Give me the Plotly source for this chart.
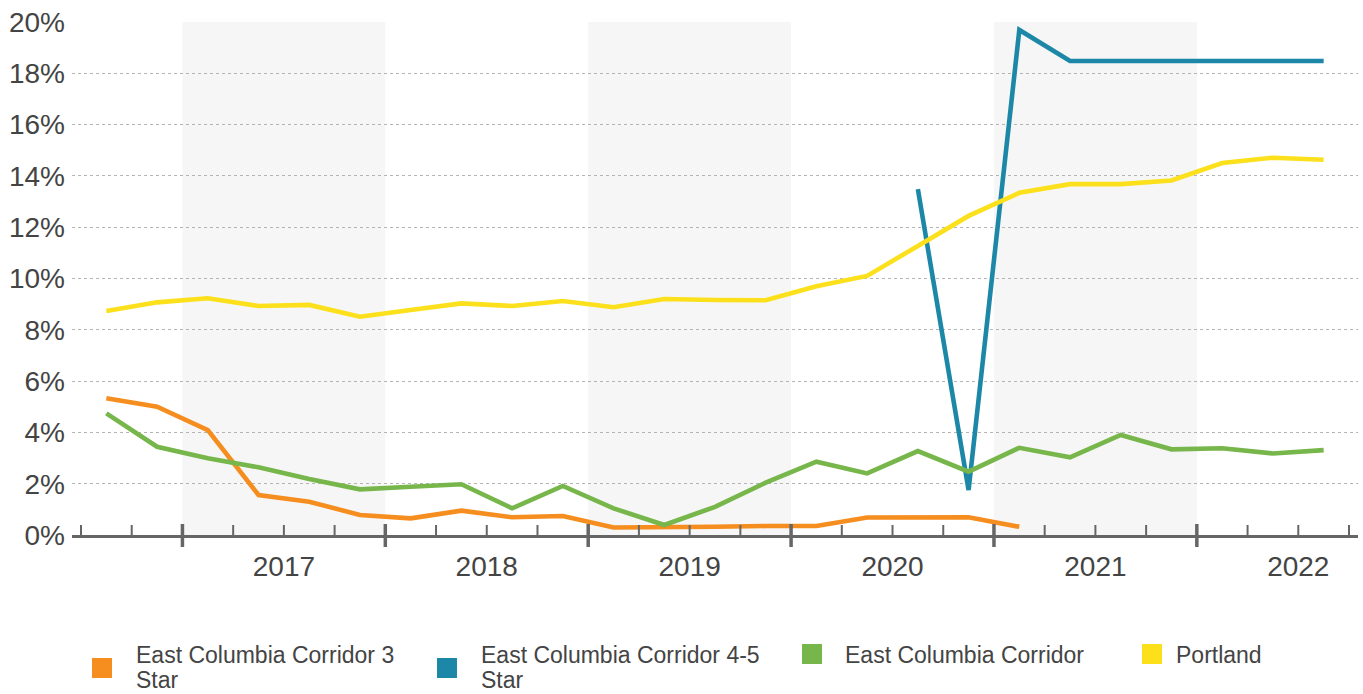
import plotly.graph_objects as go

# Quarterly vacancy rates, 2016 Q3 through 2022 Q3
quarters = [
    "2016 Q3", "2016 Q4",
    "2017 Q1", "2017 Q2", "2017 Q3", "2017 Q4",
    "2018 Q1", "2018 Q2", "2018 Q3", "2018 Q4",
    "2019 Q1", "2019 Q2", "2019 Q3", "2019 Q4",
    "2020 Q1", "2020 Q2", "2020 Q3", "2020 Q4",
    "2021 Q1", "2021 Q2", "2021 Q3", "2021 Q4",
    "2022 Q1", "2022 Q2", "2022 Q3",
]

ecc_3_star = [5.33, 5.00, 4.09, 1.56, 1.30, 0.78, 0.65, 0.95, 0.69, 0.74,
              0.29, 0.29, 0.32, 0.35, 0.35, 0.68, 0.68, 0.69, 0.32,
              None, None, None, None, None, None]
ecc_4_5_star = [None, None, None, None, None, None, None, None, None, None,
                None, None, None, None, None, None, 13.48, 1.75, 19.69,
                18.48, 18.48, 18.48, 18.48, 18.48, 18.48]
ecc_all = [4.74, 3.44, 2.99, 2.64, 2.18, 1.78, 1.88, 1.98, 1.04, 1.91,
           1.04, 0.39, 1.10, 2.04, 2.86, 2.40, 3.27, 2.47, 3.40, 3.03,
           3.90, 3.34, 3.38, 3.18, 3.31]
portland = [8.73, 9.07, 9.23, 8.93, 8.97, 8.51, 8.77, 9.03, 8.93, 9.12,
            8.88, 9.20, 9.16, 9.15, 9.70, 10.10, 11.27, 12.44, 13.34, 13.68,
            13.68, 13.82, 14.50, 14.71, 14.63]

series_names = ["East Columbia Corridor 3<br>Star",
                "East Columbia Corridor 4-5<br>Star",
                "East Columbia Corridor",
                "Portland"]
series_values = [ecc_3_star, ecc_4_5_star, ecc_all, portland]
series_colors = ["#F58D1F", "#1D87A7", "#77B64A", "#FBE01B"]

y_ticks = [0, 2, 4, 6, 8, 10, 12, 14, 16, 18, 20]

FONT = "Liberation Sans, Arial, sans-serif"
TEXT = "#444444"

x = list(range(len(quarters)))
years = sorted({q.split()[0] for q in quarters})
year_idx = {y: [i for i, q in enumerate(quarters) if q.startswith(y)] for y in years}

fig = go.Figure()

# Alternating year bands
for yr in years:
    idx = year_idx[yr]
    if int(yr) % 2 == 1:
        fig.add_shape(type="rect", xref="x", yref="paper",
                      x0=idx[0] - 0.5, x1=idx[-1] + 0.5, y0=0, y1=1,
                      fillcolor="#F6F6F6", line_width=0, layer="below")

for name, vals, col in zip(series_names, series_values, series_colors):
    fig.add_trace(go.Scatter(x=x, y=vals, mode="lines",
                             name=name.replace("<br>", " "),
                             line=dict(color=col, width=4.6),
                             showlegend=False, hoverinfo="skip"))

# Quarter ticks (small, pointing up) and year-boundary ticks (crossing the axis)
year_starts = {year_idx[y][0] for y in years if year_idx[y][0] > 0}
for b in range(len(quarters) + 1):
    pos = b - 0.5
    if b in year_starts:
        fig.add_shape(type="line", xref="x", yref="paper", ysizemode="pixel",
                      yanchor=0, x0=pos, x1=pos, y0=-12, y1=11,
                      line=dict(color="#666666", width=3.5))
    else:
        fig.add_shape(type="line", xref="x", yref="paper", ysizemode="pixel",
                      yanchor=0, x0=pos, x1=pos, y0=0, y1=10,
                      line=dict(color="#666666", width=2))

# Year labels sit in the middle of each full calendar year
tick_vals = []
tick_text = []
for yr in years:
    if yr == "2016":
        continue
    start = year_idx[yr][0]
    tick_vals.append(start - 0.5 + 2.0)
    tick_text.append(yr)

pad = 9 / 50.72
fig.update_xaxes(range=[-0.5 - pad, len(quarters) - 0.5 + pad],
                 tickvals=tick_vals, ticktext=tick_text, ticks="",
                 showgrid=False, zeroline=False,
                 showline=True, linecolor="#666666", linewidth=3,
                 tickfont=dict(family=FONT, size=28, color=TEXT),
                 ticklabelstandoff=4)
fig.update_yaxes(range=[0, 20], tickvals=y_ticks,
                 ticktext=[f"{v}%" for v in y_ticks],
                 showgrid=True, gridcolor="#B4B4B4", griddash="dot", gridwidth=1.2,
                 zeroline=False, showline=False, ticks="",
                 tickfont=dict(family=FONT, size=28, color=TEXT),
                 ticklabelstandoff=6)

# Legend drawn as square swatches with wrapped labels
W, H = 1363, 694
ml, mr, mt, mb = 72, 5, 22, 159
pw, ph = W - ml - mr, H - mt - mb


def px(xp):
    return (xp - ml) / pw


def py(yp):
    return (H - mb - yp) / ph


swatch_x = [92, 437, 802, 1142]
label_x = [135, 480, 844, 1175]
for name, col, sx, lx in zip(series_names, series_colors, swatch_x, label_x):
    lines = name.split("<br>")
    cy = 668 if len(lines) > 1 else 654
    fig.add_shape(type="rect", xref="paper", yref="paper",
                  x0=px(sx), x1=px(sx + 20), y0=py(cy + 10), y1=py(cy - 10),
                  fillcolor=col, line_width=0)
    for k, line in enumerate(lines):
        fig.add_annotation(xref="paper", yref="paper", x=px(lx),
                           y=py(640.5 + 25.7 * k),
                           xanchor="left", yanchor="top", align="left",
                           text=line, showarrow=False, borderpad=0,
                           font=dict(family=FONT, size=23, color=TEXT))

fig.update_layout(width=W, height=H,
                  margin=dict(l=ml, r=mr, t=mt, b=mb),
                  plot_bgcolor="white", paper_bgcolor="white",
                  showlegend=False)

fig.write_html("out.html")
